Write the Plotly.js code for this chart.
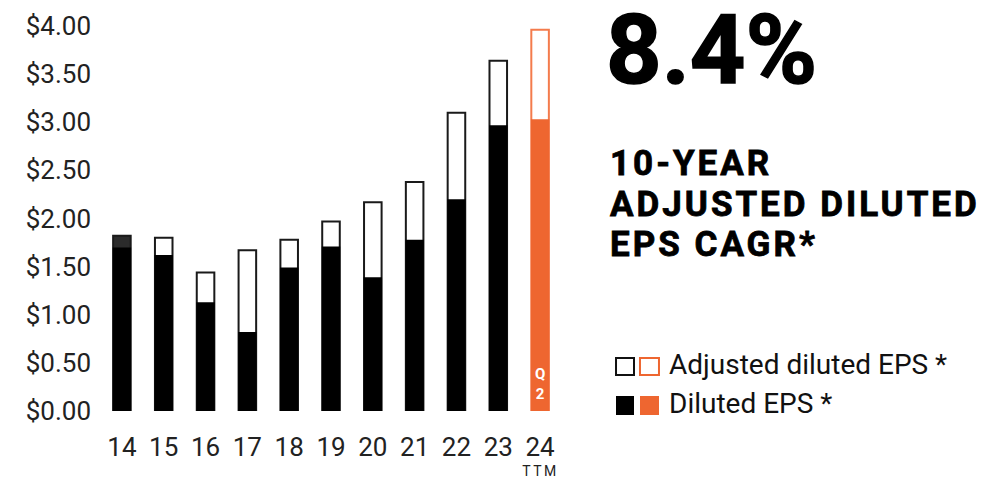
<!DOCTYPE html>
<html><head><meta charset="utf-8">
<script src="https://cdn.plot.ly/plotly-3.0.1.min.js"></script>
<style>
body{margin:0;background:#fff}#c{width:989px;height:482px}
g.annotation[data-index="3"] text, g.annotation[data-index="4"] text, g.annotation[data-index="5"] text{letter-spacing:3px; stroke:#000; stroke-width:0.8px}
g.annotation[data-index="2"] text{stroke:#000; stroke-width:1.5px}
g.annotation[data-index="0"] text{letter-spacing:2.5px}
</style>
</head><body><div id="c"></div>
<script>
const years = ['14','15','16','17','18','19','20','21','22','23','24'];
const adjustedEPS = [1.82,1.80,1.44,1.67,1.78,1.97,2.17,2.38,3.10,3.64,3.96];
const dilutedEPS  = [1.70,1.62,1.13,0.82,1.49,1.71,1.39,1.78,2.20,2.97,3.03];
const yTicks = [0,0.5,1,1.5,2,2.5,3,3.5,4];
const yTickText = ['$0.00','$0.50','$1.00','$1.50','$2.00','$2.50','$3.00','$3.50','$4.00'];
const subtitleLines = ['10-YEAR','ADJUSTED DILUTED','EPS CAGR*'];

const ORANGE = '#EE6630';
const last = years.length - 1;
const adjFill = years.map((y,i)=> i===0 ? '#2b2b2b' : '#ffffff');
const adjLine = years.map((y,i)=> i===last ? '#F47B4C' : '#1a1a1a');
const dilFill = years.map((y,i)=> i===last ? ORANGE : '#000000');

const traces = [
  {type:'bar', x:years, y:adjustedEPS, width:0.42, name:'Adjusted diluted EPS *',
   marker:{color:adjFill, line:{color:adjLine, width:2}}, hoverinfo:'skip'},
  {type:'bar', x:years, y:dilutedEPS, width:0.44, name:'Diluted EPS *',
   marker:{color:dilFill, line:{width:0}}, hoverinfo:'skip'}
];

const F = 'Roboto, "Open Sans", sans-serif';
const subY = [0.6416, 0.5364, 0.4312];
const annotations = [
  {xref:'x', yref:'paper', x:last, y:-0.156, yanchor:'middle', text:'TTM', showarrow:false,
   font:{size:14, color:'#222', family:F}},
  {xref:'x', yref:'y', x:last, y:0.06, yanchor:'bottom', text:'<b>Q</b><br><b>2</b>', showarrow:false,
   font:{size:15, color:'#fff', family:F}},
  {xref:'paper', yref:'paper', x:1.094, xanchor:'left', y:1.092, yanchor:'top',
   text:'<b>8.4%</b>', showarrow:false, font:{size:97, color:'#000', family:F}}
];
subtitleLines.forEach((t,i)=>annotations.push(
  {xref:'paper', yref:'paper', x:1.102, xanchor:'left', align:'left', y:subY[i], yanchor:'middle',
   text:'<b>'+t+'</b>', showarrow:false, font:{size:35, color:'#000', family:F, weight:900}}));
annotations.push(
  {xref:'paper', yref:'paper', x:1.231, xanchor:'left', y:0.122, yanchor:'middle',
   text:'Adjusted diluted EPS *', showarrow:false, font:{size:28, color:'#111', family:F}},
  {xref:'paper', yref:'paper', x:1.231, xanchor:'left', y:0.0182, yanchor:'middle',
   text:'Diluted EPS *', showarrow:false, font:{size:28, color:'#111', family:F}});

const layout = {
  width:989, height:482, barmode:'overlay', showlegend:false,
  paper_bgcolor:'#fff', plot_bgcolor:'#fff',
  margin:{l:101, r:428, t:26, b:71},
  font:{family:F, color:'#222'},
  xaxis:{type:'category', range:[-0.5,10.5], showgrid:false, zeroline:false, showline:false,
         ticks:'', tickfont:{size:26, color:'#222', family:F}, ticklabelstandoff:18},
  yaxis:{range:[0,4], tickvals:yTicks, ticktext:yTickText, showgrid:false, zeroline:false,
         showline:false, ticks:'', tickfont:{size:26, color:'#222', family:F}, ticklabelstandoff:9},
  annotations:annotations,
  shapes:[
    {type:'rect', xref:'paper', yref:'paper', x0:1.1196, x1:1.1587, y0:0.0935, y1:0.1377, line:{color:'#111', width:2}, fillcolor:'#fff'},
    {type:'rect', xref:'paper', yref:'paper', x0:1.1717, x1:1.2130, y0:0.0935, y1:0.1377, line:{color:ORANGE, width:2}, fillcolor:'#fff'},
    {type:'rect', xref:'paper', yref:'paper', x0:1.1196, x1:1.1587, y0:-0.0104, y1:0.039, line:{width:0}, fillcolor:'#000'},
    {type:'rect', xref:'paper', yref:'paper', x0:1.1717, x1:1.2130, y0:-0.0104, y1:0.039, line:{width:0}, fillcolor:ORANGE}
  ]
};
Plotly.newPlot('c', traces, layout, {displayModeBar:false, staticPlot:true});
</script></body></html>
